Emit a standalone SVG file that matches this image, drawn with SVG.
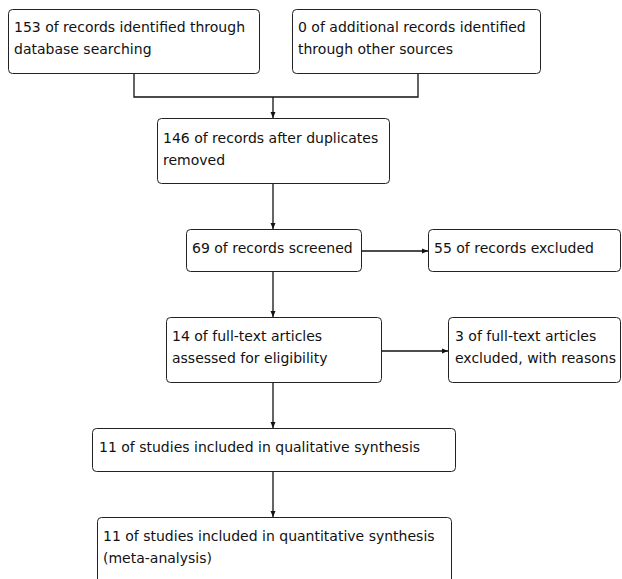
<svg xmlns="http://www.w3.org/2000/svg" width="622" height="579" viewBox="0 0 622 579">
<style>
.box{fill:#fff;stroke:#222;stroke-width:1}
.t{font-family:"DejaVu Sans",sans-serif;font-size:14px;fill:#111}
.c{fill:none;stroke:#111;stroke-width:1.3}
</style>
<defs>
<marker id="ah" markerWidth="6" markerHeight="6" refX="6" refY="3" orient="auto" markerUnits="userSpaceOnUse">
<path d="M0,0.5 L6,3 L0,5.5 Z" fill="#111"/>
</marker>
</defs>
<rect width="622" height="579" fill="#fff"/>
<g id="connectors">
<path class="c" d="M134,73 V97 H418 V73"/>
<path class="c" d="M273,97 V118" marker-end="url(#ah)"/>
<path class="c" d="M273,184 V229" marker-end="url(#ah)"/>
<path class="c" d="M362,251 H428" marker-end="url(#ah)"/>
<path class="c" d="M273,272 V317" marker-end="url(#ah)"/>
<path class="c" d="M381,351 H448" marker-end="url(#ah)"/>
<path class="c" d="M273,383 V428" marker-end="url(#ah)"/>
<path class="c" d="M273,472 V517" marker-end="url(#ah)"/>
</g>
<g id="n1"><rect class="box" x="8.5" y="9.5" width="251" height="64" rx="4"/>
<text class="t" x="14" y="32">153 of records identified through</text>
<text class="t" x="14" y="54">database searching</text></g>
<g id="n2"><rect class="box" x="292.5" y="9.5" width="248" height="64" rx="4"/>
<text class="t" x="298" y="32">0 of additional records identified</text>
<text class="t" x="298" y="54">through other sources</text></g>
<g id="n3"><rect class="box" x="157.5" y="118.5" width="232" height="65" rx="4"/>
<text class="t" x="163" y="143">146 of records after duplicates</text>
<text class="t" x="163" y="165">removed</text></g>
<g id="n4"><rect class="box" x="186.5" y="229.5" width="175" height="42" rx="4"/>
<text class="t" x="192" y="253">69 of records screened</text></g>
<g id="n5"><rect class="box" x="428.5" y="229.5" width="192" height="42" rx="4"/>
<text class="t" x="434" y="253">55 of records excluded</text></g>
<g id="n6"><rect class="box" x="166.5" y="317.5" width="215" height="65" rx="4"/>
<text class="t" x="172" y="341">14 of full-text articles</text>
<text class="t" x="172" y="363">assessed for eligibility</text></g>
<g id="n7"><rect class="box" x="448.5" y="317.5" width="172" height="65" rx="4"/>
<text class="t" x="455" y="341">3 of full-text articles</text>
<text class="t" x="455" y="363">excluded, with reasons</text></g>
<g id="n8"><rect class="box" x="92.5" y="428.5" width="363" height="43" rx="4"/>
<text class="t" x="99" y="452">11 of studies included in qualitative synthesis</text></g>
<g id="n9"><rect class="box" x="97.5" y="517.5" width="354" height="80" rx="4"/>
<text class="t" x="103" y="541">11 of studies included in quantitative synthesis</text>
<text class="t" x="103" y="563">(meta-analysis)</text></g>
</svg>
